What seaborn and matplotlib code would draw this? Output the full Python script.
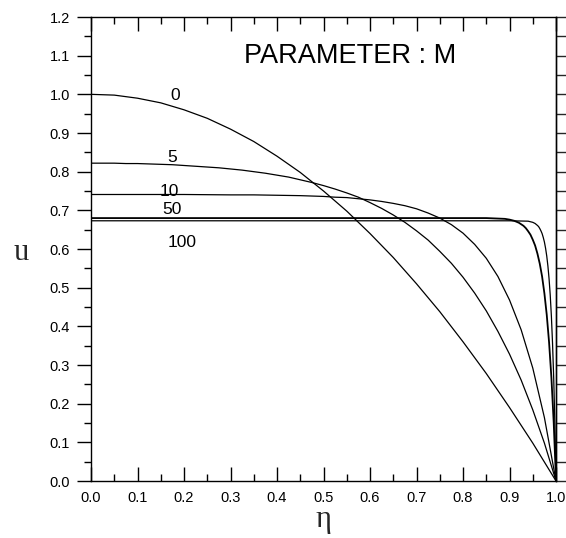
import numpy as np
import pandas as pd
import matplotlib
matplotlib.use("Agg")
import matplotlib.pyplot as plt
from matplotlib.ticker import FormatStrFormatter, MultipleLocator
import seaborn as sns

# ---- data ----
M_values = ["0", "5", "10", "50", "100"]

eta_0 = [0.0, 0.025, 0.05, 0.075, 0.1, 0.125, 0.15, 0.175, 0.2, 0.225, 0.25,
         0.275, 0.3, 0.325, 0.35, 0.375, 0.4, 0.425, 0.45, 0.475, 0.5, 0.525,
         0.55, 0.575, 0.6, 0.625, 0.65, 0.675, 0.7, 0.725, 0.75, 0.775, 0.8,
         0.825, 0.85, 0.875, 0.9, 0.925, 0.95, 0.975, 1.0]
u_0 = [1.0, 0.999, 0.998, 0.994, 0.99, 0.984, 0.978, 0.969, 0.96, 0.949,
       0.938, 0.924, 0.91, 0.894, 0.878, 0.859, 0.84, 0.819, 0.798, 0.774,
       0.75, 0.724, 0.698, 0.669, 0.64, 0.609, 0.578, 0.544, 0.51, 0.474,
       0.438, 0.399, 0.36, 0.319, 0.278, 0.234, 0.19, 0.144, 0.098, 0.049, 0.0]

eta_5 = [0.0, 0.025, 0.05, 0.075, 0.1, 0.125, 0.15, 0.175, 0.2, 0.225, 0.25,
         0.275, 0.3, 0.325, 0.35, 0.375, 0.4, 0.425, 0.45, 0.475, 0.5, 0.525,
         0.55, 0.575, 0.6, 0.625, 0.65, 0.675, 0.7, 0.725, 0.75, 0.775, 0.8,
         0.825, 0.85, 0.875, 0.9, 0.925, 0.95, 0.975, 1.0]
u_5 = [0.822, 0.822, 0.822, 0.821, 0.821, 0.820, 0.819, 0.818, 0.816, 0.814,
       0.812, 0.810, 0.807, 0.804, 0.800, 0.796, 0.791, 0.786, 0.779, 0.772,
       0.764, 0.755, 0.745, 0.734, 0.720, 0.705, 0.688, 0.669, 0.647, 0.623,
       0.594, 0.563, 0.527, 0.486, 0.440, 0.387, 0.328, 0.261, 0.184, 0.098,
       0.0]

eta_10 = [0.0, 0.1, 0.2, 0.3, 0.35, 0.4, 0.45, 0.5, 0.525, 0.55, 0.575, 0.6,
          0.625, 0.65, 0.675, 0.7, 0.725, 0.75, 0.775, 0.8, 0.825, 0.85,
          0.875, 0.9, 0.925, 0.95, 0.975, 1.0]
u_10 = [0.741, 0.741, 0.741, 0.740, 0.740, 0.739, 0.738, 0.736, 0.734, 0.733,
        0.730, 0.727, 0.723, 0.718, 0.712, 0.704, 0.693, 0.680, 0.663, 0.641,
        0.612, 0.576, 0.529, 0.468, 0.391, 0.292, 0.164, 0.0]

eta_50 = [0.0, 0.2, 0.4, 0.6, 0.8, 0.85, 0.87, 0.89, 0.9, 0.91, 0.92, 0.925,
          0.93, 0.935, 0.94, 0.945, 0.95, 0.955, 0.96, 0.965, 0.97, 0.975,
          0.98, 0.985, 0.99, 0.995, 1.0]
u_50 = [0.680, 0.680, 0.680, 0.680, 0.680, 0.680, 0.679, 0.678, 0.676, 0.673,
        0.668, 0.664, 0.660, 0.654, 0.646, 0.637, 0.624, 0.609, 0.588, 0.562,
        0.529, 0.485, 0.430, 0.359, 0.268, 0.151, 0.0]

eta_100 = [0.0, 0.2, 0.4, 0.6, 0.8, 0.9, 0.94, 0.95, 0.955, 0.96, 0.9625,
           0.965, 0.9675, 0.97, 0.9725, 0.975, 0.9775, 0.98, 0.9825, 0.985,
           0.9875, 0.99, 0.9925, 0.995, 0.9975, 1.0]
u_100 = [0.673, 0.673, 0.673, 0.673, 0.673, 0.673, 0.672, 0.669, 0.666,
         0.661, 0.658, 0.653, 0.647, 0.640, 0.630, 0.618, 0.602, 0.582, 0.556,
         0.523, 0.481, 0.426, 0.355, 0.265, 0.149, 0.0]

x_ticks = [0.0, 0.1, 0.2, 0.3, 0.4, 0.5, 0.6, 0.7, 0.8, 0.9, 1.0]
y_ticks = [0.0, 0.1, 0.2, 0.3, 0.4, 0.5, 0.6, 0.7, 0.8, 0.9, 1.0, 1.1, 1.2]

title_text = "PARAMETER : M"
x_label = "\u03b7"
y_label = "u"

# ---- build long table ----
frames = []
for m, e, u in zip(M_values, [eta_0, eta_5, eta_10, eta_50, eta_100],
                   [u_0, u_5, u_10, u_50, u_100]):
    frames.append(pd.DataFrame({"eta": e, "u": u, "M": m}))
df = pd.concat(frames, ignore_index=True)

# ---- style ----
sns.set_style("ticks")
plt.rcParams["font.family"] = ["Liberation Sans", "DejaVu Sans"]

fig = plt.figure(figsize=(5.66, 5.38), dpi=100)
ax = fig.add_axes([0.1608, 0.1059, 0.8216, 0.8625])

line_widths = {"0": 0.9, "5": 0.9, "10": 0.9, "50": 1.3, "100": 0.9}
for m in M_values:
    sub = df[df["M"] == m]
    sns.lineplot(data=sub, x="eta", y="u", estimator=None, sort=False,
                 color="black", linewidth=line_widths[m], ax=ax)

ax.set_xlim(0, 1)
ax.set_ylim(0, 1.2)
ax.set_xticks(x_ticks)
ax.set_yticks(y_ticks)
ax.xaxis.set_minor_locator(MultipleLocator(0.05))
ax.yaxis.set_minor_locator(MultipleLocator(0.05))
ax.xaxis.set_major_formatter(FormatStrFormatter("%.1f"))
ax.yaxis.set_major_formatter(FormatStrFormatter("%.1f"))
ax.set_xlabel("")
ax.set_ylabel("")

for s in ax.spines.values():
    s.set_visible(True)
    s.set_linewidth(1.0)
    s.set_color("black")

ax.tick_params(axis="x", which="both", direction="in", top=True, bottom=True,
               width=1.0, colors="black", labelsize=10.5, pad=7)
ax.tick_params(axis="x", which="major", length=10)
ax.tick_params(axis="x", which="minor", length=5)
ax.tick_params(axis="y", which="both", direction="out", left=True, right=False,
               width=1.0, colors="black", labelsize=10.5, pad=5)
ax.tick_params(axis="y", which="major", length=10)
ax.tick_params(axis="y", which="minor", length=5)

sec = ax.secondary_yaxis("right")
sec.set_yticks(np.arange(0, 1.2001, 0.05))
sec.set_yticklabels([])
sec.tick_params(axis="y", direction="out", length=10, width=1.0)
sec.spines["right"].set_linewidth(1.0)

# curve labels
label_pos = [(0.181, 0.996), (0.174, 0.837), (0.168, 0.750),
             (0.175, 0.702), (0.195, 0.618)]
for lab, (lx, ly) in zip(M_values, label_pos):
    ax.text(lx, ly, lab, ha="center", va="center", fontsize=12.5, color="black")

ax.text(0.557, 1.08, title_text, ha="center", va="baseline",
        fontsize=19.5, color="black")

serif = ["Liberation Serif", "DejaVu Serif"]
fig.text(0.038, 0.5167, y_label, ha="center", va="baseline",
         fontsize=22, family=serif)
fig.text(0.572, 0.0204, x_label, ha="center", va="baseline",
         fontsize=22, family=serif)

fig.savefig("out.png", dpi=100)
